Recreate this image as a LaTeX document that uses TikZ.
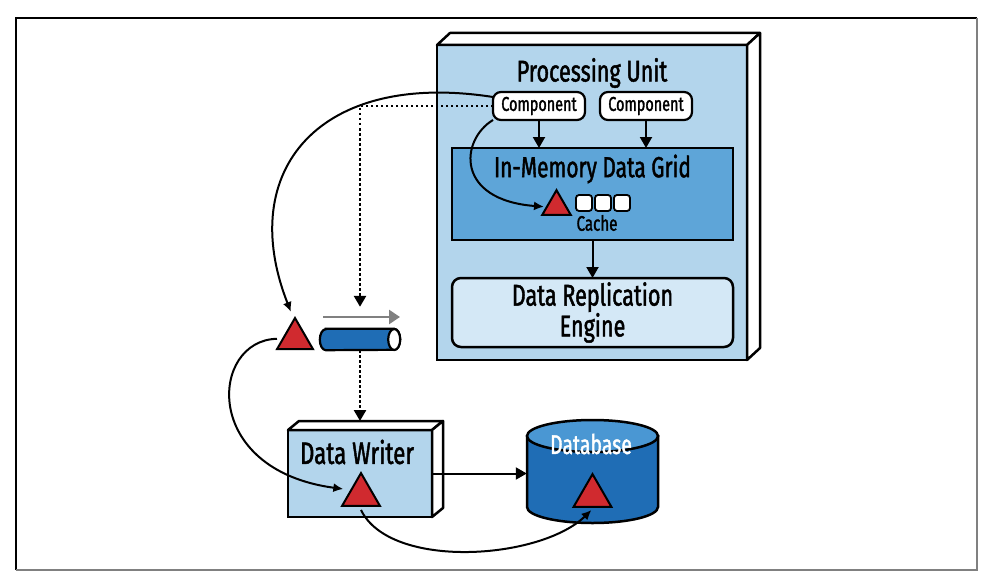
\documentclass[tikz,border=0pt]{standalone}
\usepackage{fontspec}
\setmainfont{Fira Sans}[FakeStretch=0.72, FakeBold=1.5]
\usetikzlibrary{arrows.meta,shapes.geometric,positioning}
\definecolor{unitBlue}{HTML}{B3D5EC}
\definecolor{gridBlue}{HTML}{5EA5D8}
\definecolor{engineBlue}{HTML}{D4E8F6}
\definecolor{pipeBlue}{HTML}{1F6DB5}
\definecolor{dbTop}{HTML}{4A97D3}
\definecolor{triRed}{HTML}{D02A2F}
\begin{document}
\begin{tikzpicture}[x=1pt, y=-1pt,
    box/.style={draw, line width=2.5pt, inner sep=0pt, outer sep=0pt},
    face/.style={draw, line width=2.5pt, fill=white, line join=round},
    comp/.style={box, line width=2.2pt, fill=white, rounded corners=8pt, minimum width=92pt,
      minimum height=28pt, font=\fontsize{20}{21}\selectfont},
    tri/.style={regular polygon, regular polygon sides=3, draw, fill=triRed,
      line width=2pt, inner sep=0pt, outer sep=0pt, minimum size=#1},
    sq/.style={draw, fill=white, line width=1.8pt, rounded corners=3pt,
      minimum size=16pt, inner sep=0pt},
    arr/.style={line width=2pt, -{Triangle[length=11pt, width=12pt]}},
    curvearr/.style={line width=2pt, -{Latex[length=10pt, width=9pt]}},
    dots/.style={arr, line width=2.5pt, dash pattern=on 2.5pt off 2.5pt}]
  \useasboundingbox (0,0) rectangle (992,583);
  % frame
  \draw[line width=2pt] (16,570) -- (16,18) -- (977,18);
  \draw[line width=2pt, gray] (16,570) -- (977,570) -- (977,18);

  % processing unit
  \node[box, fill=unitBlue, minimum width=310pt, minimum height=315pt] (pu) at (592,202.5) {};
  \draw[face] (pu.north west) -- ++(13,-12) -- ([shift={(13,-12)}]pu.north east) -- (pu.north east) -- cycle;
  \draw[face] (pu.north east) -- ++(13,-12) -- ([shift={(13,-12)}]pu.south east) -- (pu.south east) -- cycle;
  \node[font=\fontsize{30}{32}\selectfont] (putitle) at (592,73) {Processing Unit};
  \node[comp] (c1) at (539,106) {Component};
  \node[comp] (c2) at (646,106) {Component};

  \node[box, fill=gridBlue, minimum width=281pt, minimum height=92pt] (grid) at (592.5,194) {};
  \node[font=\fontsize{29}{31}\selectfont] (gridtitle) at (592.5,169) {In-Memory Data Grid};
  \node[tri=33pt] (gtri) at (556.5,206.7) {};
  \foreach \i in {0,1,2}
    \node[sq] (sq\i) at ({584+\i*19},203) {};
  \node[font=\fontsize{21}{22}\selectfont] (cache) at (597,223) {Cache};

  \node[box, fill=engineBlue, rounded corners=9pt, minimum width=281pt, minimum height=69pt,
    align=center, font=\fontsize{30}{27}\selectfont] (dre) at (592.5,312.5) {Data Replication\\Engine};

  \draw[arr] (c1.south) -- (c1.south |- grid.north);
  \draw[arr] (c2.south) -- (c2.south |- grid.north);
  \draw[arr] (grid.south) -- (dre.north);

  % queue
  \node[tri=41.6pt] (qtri) at (295,338.8) {};
  \node[inner sep=0pt, minimum width=80pt, minimum height=21pt] (pipe) at (360,339.5) {};
  \draw[line width=2.2pt, fill=pipeBlue] ([xshift=6pt]pipe.north west) -- ([xshift=-6pt]pipe.north east)
    arc[start angle=90, end angle=-90, x radius=6pt, y radius=10.5pt] -- ([xshift=6pt]pipe.south west)
    arc[start angle=270, end angle=90, x radius=6pt, y radius=10.5pt] -- cycle;
  \draw[line width=2.2pt, fill=white] ([xshift=-6pt]pipe.east) ellipse[x radius=6pt, y radius=10.5pt];
  \coordinate (flowA) at (323,317);
  \coordinate (flowB) at (400,317);
  \draw[line width=2.8pt, gray, -{Triangle[length=11pt, width=14pt]}] (flowA) -- (flowB);

  % data writer
  \node[box, fill=unitBlue, minimum width=144pt, minimum height=87pt] (dw) at (360,473.5) {};
  \draw[face] (dw.north west) -- ++(11,-9) -- ([shift={(11,-9)}]dw.north east) -- (dw.north east) -- cycle;
  \draw[face] (dw.north east) -- ++(11,-9) -- ([shift={(11,-9)}]dw.south east) -- (dw.south east) -- cycle;
  \node[font=\fontsize{31}{33}\selectfont] (dwtitle) at (357,452) {Data Writer};
  \node[tri=43.8pt] (dwtri) at (361,495) {};

  % database
  \node[inner sep=0pt, minimum width=131pt, minimum height=103pt] (db) at (592.5,471.5) {};
  \draw[line width=2.5pt, fill=pipeBlue] (527,436) -- (527,507)
    arc[start angle=180, end angle=360, x radius=65.5pt, y radius=16pt] -- (658,436) -- cycle;
  \draw[line width=2.5pt, fill=dbTop] (592.5,436) ellipse[x radius=65.5pt, y radius=16pt];
  \node[white, font=\fontsize{27}{29}\selectfont] (dbtitle) at (591,444) {Database};
  \node[tri=43.8pt] (dbtri) at (592.5,496) {};

  % connectors
  \draw[curvearr] ([yshift=-5pt]c1.north west) .. controls (320,70) and (235,170) .. ([shift={(-4,-6)}]qtri.corner 1);
  \draw[curvearr] (c1.south west) .. controls (460,140) and (455,200) .. ([shift={(-3,0)}]gtri.west);
  \draw[dots] (c1.west) -| ([yshift=22pt]pipe.north);
  \draw[dots] (pipe.south) -- ([yshift=9pt]dw.north);
  \draw[curvearr] ([xshift=-6pt]qtri.west) .. controls (210,340) and (200,470) .. ([shift={(-5,-6)}]dwtri.west);
  \draw[arr] (dw.east) -- (dw.east -| db.west);
  \draw[curvearr] ([yshift=-4pt]dwtri.south) .. controls (390,570) and (540,560) .. ([shift={(-1,3)}]dbtri.south);
\end{tikzpicture}
\end{document}
